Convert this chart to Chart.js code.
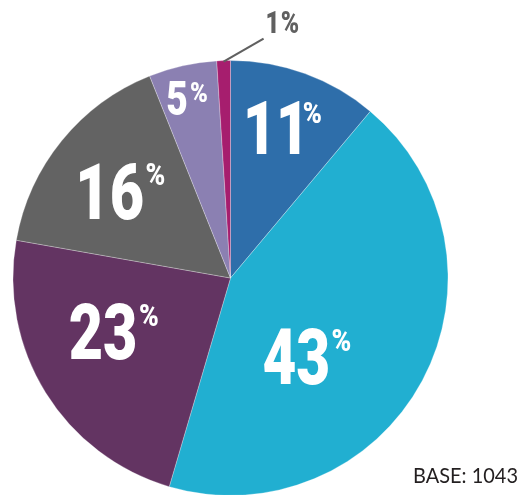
<!DOCTYPE html>
<html>
<head>
<meta charset="utf-8">
<script src="https://cdn.jsdelivr.net/npm/chart.js@4"></script>
<style>
  html, body { margin: 0; padding: 0; background: #ffffff; }
  #wrap { width: 531px; height: 495px; position: relative; }
  canvas { display: block; }
</style>
</head>
<body>
<div id="wrap"><canvas id="pie" width="531" height="495"></canvas></div>
<script>
// Share of respondents per segment, clockwise from 12 o'clock
const categories = ['Segment A', 'Segment B', 'Segment C', 'Segment D', 'Segment E', 'Segment F'];
const shares = [11, 43, 23, 16, 5, 1];
const sliceColors = ['#2e6eaa', '#21afd1', '#633462', '#636363', '#8b80b2', '#a61e6e'];
const baseCount = 1043;

// Where each value label sits inside its slice:
// t = position across the slice (0 = start edge, 1 = end edge), r = fraction of the radius
const labelLayout = [
  { t: 0.40, r: 0.72, size: 75, pct: 30 },
  { t: 0.64, r: 0.47, size: 77, pct: 31 },
  { t: 0.61, r: 0.635, size: 78, pct: 31 },
  { t: 0.45, r: 0.68, size: 78, pct: 31 },
  { t: 0.29, r: 0.865, size: 49, pct: 28 },
  { outside: true, size: 32, pct: 32 }
];

const LABEL_FONT = '"Roboto", "DejaVu Sans Condensed", sans-serif';
const LABEL_WEIGHT = '900';
const DIGIT_SQUEEZE = 0.76;   // narrow the digits into a condensed look
const PCT_SQUEEZE = 0.86;

// fill text narrowed horizontally; (x, y) is the origin on the baseline
function fillNarrow(ctx, text, x, y, sx) {
  ctx.save();
  ctx.translate(x, y);
  ctx.scale(sx, 1);
  ctx.fillText(text, 0, 0);
  ctx.restore();
}

const valueLabels = {
  id: 'valueLabels',
  afterDatasetsDraw(chart) {
    const ctx = chart.ctx;
    const arcs = chart.getDatasetMeta(0).data;
    ctx.save();
    ctx.textAlign = 'left';
    ctx.textBaseline = 'alphabetic';
    arcs.forEach((arc, i) => {
      const lay = labelLayout[i];
      const { x, y, startAngle, endAngle, outerRadius } = arc.getProps(['x', 'y', 'startAngle', 'endAngle', 'outerRadius'], true);
      const num = String(shares[i]);
      if (lay.outside) {
        // leader line from the slice edge up to the label
        const mid = (startAngle + endAngle) / 2;
        const sx = x + outerRadius * Math.cos(mid);
        const sy = y + outerRadius * Math.sin(mid);
        const ex = sx + 40, ey = sy - 22;
        ctx.strokeStyle = '#606060';
        ctx.lineWidth = 2.2;
        ctx.beginPath();
        ctx.moveTo(sx, sy + 1);
        ctx.lineTo(ex, ey);
        ctx.stroke();
        ctx.fillStyle = '#606060';
        ctx.font = LABEL_WEIGHT + ' ' + lay.size + 'px ' + LABEL_FONT;
        const m = ctx.measureText(num);
        const bx = ex + 2, by = ey - 6;
        fillNarrow(ctx, num, bx, by, DIGIT_SQUEEZE);
        fillNarrow(ctx, '%', bx + m.width * DIGIT_SQUEEZE + 1, by, PCT_SQUEEZE * 0.9);
        return;
      }
      const a = startAngle + (endAngle - startAngle) * lay.t;
      const cx = x + outerRadius * lay.r * Math.cos(a);
      const cy = y + outerRadius * lay.r * Math.sin(a);
      ctx.fillStyle = '#ffffff';
      ctx.font = LABEL_WEIGHT + ' ' + lay.size + 'px ' + LABEL_FONT;
      const m = ctx.measureText(num);
      const w = (m.actualBoundingBoxRight + m.actualBoundingBoxLeft) * DIGIT_SQUEEZE;
      const origin = cx - w / 2 + m.actualBoundingBoxLeft * DIGIT_SQUEEZE;
      const asc = m.actualBoundingBoxAscent;
      const baseline = cy + asc / 2;
      fillNarrow(ctx, num, origin, baseline, DIGIT_SQUEEZE);
      // superscript percent sign, top-aligned with the digits
      const right = cx + w / 2;
      ctx.font = LABEL_WEIGHT + ' ' + lay.pct + 'px ' + LABEL_FONT;
      const pm = ctx.measureText('%');
      const pOrigin = right + 4 + pm.actualBoundingBoxLeft * PCT_SQUEEZE;
      fillNarrow(ctx, '%', pOrigin, baseline - asc + pm.actualBoundingBoxAscent + 1, PCT_SQUEEZE);
    });
    // sample size note
    ctx.fillStyle = '#231f20';
    ctx.font = '22px "Lato", "Open Sans", sans-serif';
    const note = 'BASE: ' + baseCount;
    const nw = ctx.measureText(note).width;
    const squeeze = Math.min(1, 105 / nw);
    fillNarrow(ctx, note, 518 - nw * squeeze, 483, squeeze);
    ctx.restore();
  }
};

new Chart(document.getElementById('pie'), {
  type: 'pie',
  data: {
    labels: categories,
    datasets: [{
      data: shares,
      backgroundColor: sliceColors,
      borderColor: 'rgba(255,255,255,0.35)',
      borderWidth: 0.8,
      radius: 217.5
    }]
  },
  options: {
    responsive: false,
    devicePixelRatio: 1,
    animation: false,
    layout: { padding: { left: 13, right: 83, top: 61, bottom: 0 } },
    plugins: {
      legend: { display: false },
      tooltip: { enabled: false }
    }
  },
  plugins: [valueLabels]
});
</script>
</body>
</html>
